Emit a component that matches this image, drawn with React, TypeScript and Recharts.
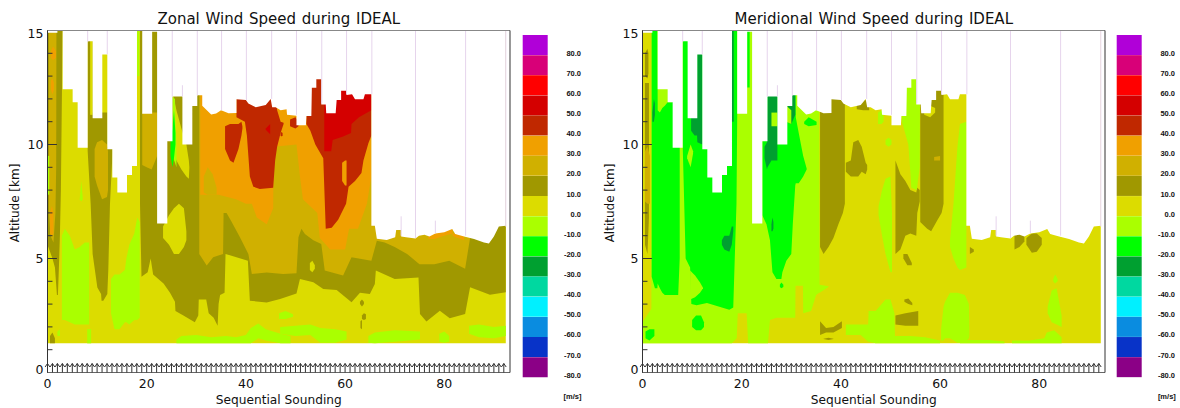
import { Area, Bar, BarChart, Cell, ComposedChart, Line, Scatter, XAxis, YAxis } from 'recharts';

type Row = [number, number, number];

const FONT = '"DejaVu Sans", sans-serif';
const YELLOW = '#dcdc00';
const OLIVE = '#a09800';
const GOLD = '#d0b000';
const ORANGE = '#f0a000';
const BRICK = '#c02800';
const DARKRED = '#d40000';
const LIME = '#aaff00';
const GREEN = '#00ff00';
const DARKGREEN = '#00a030';

const colorLevels = [80, 70, 60, 50, 40, 30, 20, 10, 0, -10, -20, -30, -40, -50, -60, -70, -80];
const colorFills = ['#b000d8', '#d80078', '#ff0000', '#d40000', '#c02800', '#f0a000', '#d0b000', '#a09800', '#dcdc00', '#aaff00', '#00ff00', '#00a030', '#00d8a0', '#00f0ff', '#0a8ce0', '#0833c8', '#8b0086'];

const xTicks = [0, 20, 40, 60, 80];
const altitudeTicks = [0, 1, 2, 3, 4, 5, 6, 7, 8, 9, 10, 11, 12, 13, 14, 15];
const minorAltitudes = [1, 2, 3, 4, 6, 7, 8, 9, 11, 12, 13, 14];
const majorAltitudes = [5, 10];
const soundings = [0, 1, 2, 3, 4, 5, 6, 7, 8, 9, 10, 11, 12, 13, 14, 15, 16, 17, 18, 19, 20, 21, 22, 23, 24, 25, 26, 27, 28, 29, 30, 31, 32, 33, 34, 35, 36, 37, 38, 39, 40, 41, 42, 43, 44, 45, 46, 47, 48, 49, 50, 51, 52, 53, 54, 55, 56, 57, 58, 59, 60, 61, 62, 63, 64, 65, 66, 67, 68, 69, 70, 71, 72, 73, 74, 75, 76, 77, 78, 79, 80, 81, 82, 83, 84, 85, 86, 87, 88, 89, 90, 91, 92];

// top of the data, white above it: [sounding, top altitude, 15]
const profileTop: Row[] = [
  [0, 14.9, 15.1], [2, 14.9, 15.1], [2, 15, 15.1], [3.06, 15, 15.1], [3.06, 12.42, 15.1], [5.07, 12.42, 15.1], [5.07, 11.85, 15.1], [6.08, 11.85, 15.1], [6.08, 9.86, 15.1], [8.1, 9.86, 15.1], [8.1, 14.53, 15.1], [9.1, 14.53, 15.1], [9.1, 11.15, 15.1], [11.05, 11.15, 15.1], [11.05, 13.95, 15.1], [12.06, 13.95, 15.1], [12.06, 9.79, 15.1], [13.07, 9.79, 15.1], [13.07, 8.55, 15.1], [14.08, 8.55, 15.1], [14.08, 7.89, 15.1], [16.03, 7.89, 15.1], [16.03, 8.66, 15.1], [17.04, 8.66, 15.1], [17.04, 9.06, 15.1], [18.04, 9.06, 15.1], [18.04, 15, 15.1], [19.1, 15, 15.1], [19.1, 11.35, 15.1], [21.1, 11.35, 15.1], [21.1, 14.95, 15.1], [22.1, 14.95, 15.1], [22.1, 6.54, 15.1], [24.16, 6.54, 15.1], [24.16, 10.14, 15.1], [25.2, 10.14, 15.1], [25.2, 12.1, 15.1], [27.2, 12.1, 15.1], [27.2, 10, 15.1], [29.2, 10, 15.1], [29.2, 11.69, 15.1], [30.2, 11.69, 15.1], [30.2, 12.16, 15.1], [31.2, 12.16, 15.1], [31.2, 11.7, 15.1], [33, 11.32, 15.1], [34, 11.36, 15.1], [35, 11.5, 15.1], [36.5, 11.37, 15.1], [38.1, 11.38, 15.1], [38.1, 11.98, 15.1], [40, 11.95, 15.1], [40.5, 11.8, 15.1], [42, 11.63, 15.1], [44, 11.73, 15.1], [45, 12, 15.1], [45.3, 11.63, 15.1], [46, 11.63, 15.1], [47, 11.5, 15.1], [48.2, 11.55, 15.1], [48.3, 11.3, 15.1], [50.2, 11.26, 15.1], [50.2, 10.84, 15.1], [52.1, 10.84, 15.1], [52.2, 11.25, 15.1], [53.2, 11.25, 15.1], [53.3, 12.49, 15.1], [54.2, 12.49, 15.1], [54.2, 12.86, 15.1], [55.2, 12.86, 15.1], [55.2, 11.75, 15.1], [56.1, 11.75, 15.1], [56.2, 11.37, 15.1], [58.1, 11.37, 15.1], [58.3, 11.95, 15.1], [59.2, 11.95, 15.1], [59.2, 12.36, 15.1], [60.2, 12.36, 15.1], [60.3, 12.17, 15.1], [61.4, 12.2, 15.1], [62, 11.99, 15.1], [63.7, 11.99, 15.1], [64, 12.2, 15.1], [65.3, 12.2, 15.1], [65.3, 6.44, 15.1], [66, 6.44, 15.1], [66.4, 5.87, 15.1], [68.4, 5.81, 15.1], [70.1, 5.93, 15.1], [70.3, 6.25, 15.1], [71.3, 6.25, 15.1], [71.3, 5.96, 15.1], [72.3, 5.93, 15.1], [74.2, 5.88, 15.1], [74.9, 6, 15.1], [76, 6.04, 15.1], [77, 5.97, 15.1], [78.2, 6.1, 15.1], [80, 6.15, 15.1], [81.6, 6.29, 15.1], [82.2, 6.07, 15.1], [84, 5.97, 15.1], [86, 5.85, 15.1], [88, 5.7, 15.1], [89, 5.66, 15.1], [90, 5.96, 15.1], [91, 6.4, 15.1], [92.4, 6.44, 15.1],
];
// launch marks above the data: [sounding, from, to]
const launchMarks: Row[] = [[8.1, 14.5, 15], [12.05, 13.95, 15], [25.15, 12.1, 15], [27.2, 12.1, 12.6], [30.2, 12.15, 15], [35.1, 11.5, 15], [40.1, 11.95, 15], [45.2, 12, 15], [50.2, 11.3, 15], [55.3, 11.8, 15], [60.3, 12.2, 15], [65.4, 12.2, 15], [71.3, 6, 6.85], [74.2, 5.9, 15], [78.2, 6.1, 6.66], [84.3, 6, 15], [92.4, 6.4, 15]];

const base: Row[] = [[0, 1.28, 15], [92.4, 1.28, 15]];

// Zonal: [sounding, low, high]
const zLimeA: Row[] = [[2.9, 2.3, 6], [3.5, 2.3, 6.3], [4.5, 2.2, 6], [5.5, 2.1, 5.4], [6.5, 2.1, 5.5], [7.5, 2.1, 5.7], [8.4, 2.1, 5.7]];
const zLimeB: Row[] = [[12.8, 2.6, 4.1], [13.5, 1.9, 4.3], [14.5, 1.9, 4.3], [15.6, 2.2, 4.5], [15.9, 2.2, 5], [16.5, 2.1, 5.6], [17.5, 2.3, 6.1], [18.1, 2.3, 6.8], [18.6, 2.4, 6.6]];
const zLimeTip: Row[] = [[6.5, 7.6, 7.6], [6.8, 7.5, 8.4], [7.1, 7.6, 7.7]];
const zLimeFoot: Row[] = [[8, 1.28, 1.9], [8.8, 1.28, 1.9]];
const zLimeC: Row[] = [[2, 1.6, 1.8], [2.5, 1.6, 1.9]];
const zLimeD: Row[] = [[26, 1.28, 1.45], [27, 1.28, 1.6], [30, 1.28, 1.65], [33, 1.28, 1.55], [36, 1.28, 1.6], [38, 1.28, 1.55], [40, 1.28, 1.65], [41, 1.28, 1.95], [42.5, 1.5, 2.15], [44, 1.4, 1.9], [47, 1.28, 1.7], [49, 1.28, 1.6]];
const zLimeE: Row[] = [[46.7, 2.35, 2.6], [48, 2.35, 2.7], [49.5, 2.45, 2.55]];
const zLimeF: Row[] = [[46.9, 1.7, 2], [50, 1.6, 2.05], [53, 1.65, 2.1], [55, 1.3, 1.95], [58, 1.3, 1.9], [60.3, 1.45, 1.8]];
const zLimeG: Row[] = [[64.7, 1.3, 1.6], [66, 1.28, 1.75], [70, 1.35, 1.85], [75.1, 1.45, 1.8]];
const zLimeH: Row[] = [[79, 1.35, 1.7], [80, 1.3, 1.8], [81, 1.35, 1.6]];
const zLimeI: Row[] = [[85, 1.7, 2.05], [87, 1.55, 2.1], [90, 1.5, 2], [92.4, 1.6, 2.05]];
const zOliveA: Row[] = [[0, 5.6, 15], [1, 5, 15], [1.5, 4.6, 15], [1.9, 3.4, 15], [2.1, 3.4, 15], [2.3, 4.6, 15], [2.5, 6, 15], [2.7, 8, 15], [2.85, 11, 15], [3.05, 15, 15]];
const zOliveB: Row[] = [[8.1, 9.7, 14.6], [8.7, 7.4, 14.6], [9.1, 5.2, 14.6], [9.1, 5.2, 11.4], [10.05, 3.73, 11.4], [10.8, 3.44, 11.4], [10.9, 3.15, 11.4], [11.25, 3.15, 11.4], [12.06, 3.44, 11.4], [12.06, 3.44, 9.9], [12.26, 4.5, 9.9], [12.6, 7.4, 9.9], [13.1, 9.6, 9.8]];
const zYellowStrip: Row[] = [[8.6, 11.3, 14.6], [9.1, 11.3, 14.6]];
const zOliveFoot: Row[] = [[0.5, 1.28, 1.6], [1, 1.28, 1.75], [1.5, 1.28, 1.5]];
const zOliveBand: Row[] = [[18.65, 7.4, 15], [18.95, 4.2, 15], [20.2, 4.4, 15], [20.8, 5, 15], [21.3, 4.3, 15], [23.4, 3.9, 15], [24.7, 3.5, 15], [25.7, 3.1, 15], [25.8, 2.7, 15], [27.4, 2.5, 15], [29.7, 2.2, 15], [30.4, 2.5, 15], [30.5, 3.2, 15], [32, 3.2, 15], [32.5, 2.6, 15], [33.5, 2.4, 15], [34.3, 2.05, 15], [34.5, 3, 15], [34.8, 3.4, 15], [35.7, 3.5, 15], [35.9, 5.2, 15], [40.4, 4.9, 15], [40.8, 3.15, 15], [44.2, 3.07, 15], [46.9, 3.22, 15], [50.2, 3.47, 15], [50.9, 4.1, 15], [53.6, 3.96, 15], [55.6, 3.66, 15], [58.3, 3.62, 15], [61.3, 3.08, 15], [63, 3.5, 15], [65, 3.44, 15], [66, 3.88, 15], [66.2, 4.47, 15], [70, 4.1, 15], [74.8, 4.17, 15], [75.1, 2.57, 15], [76.4, 2.24, 15], [79.1, 2.71, 15], [81.1, 2.38, 15], [84.2, 2.57, 15], [85.2, 3.74, 15], [89.2, 3.41, 15], [92.4, 3.52, 15]];
const zOliveDotA: Row[] = [[63, 3, 3.1], [63.4, 2.9, 3.2], [63.8, 3, 3.1]];
const zOliveDotB: Row[] = [[63.4, 2.35, 2.5], [63.8, 2.3, 2.6], [64.2, 2.35, 2.55]];
const zOliveDotC: Row[] = [[63.1, 1.95, 2.25], [63.4, 1.9, 2.3]];
const zGoldA: Row[] = [[0.3, 7, 15], [0.6, 6, 14.9], [1.2, 5.7, 15], [1.6, 7, 15], [1.75, 9, 15], [1.8, 15, 15]];
const zGoldB: Row[] = [[9.5, 8.6, 9.8], [10, 8.2, 10.1], [11, 7.6, 10.2], [12, 7.7, 10], [12.2, 8, 9.7]];
const zGoldC: Row[] = [[19.1, 9.1, 11.4], [20, 9, 11.4], [21, 8.9, 11.4], [22.1, 9.5, 11.4]];
const zGoldMain: Row[] = [[30.6, 5.2, 15], [32.1, 4.69, 15], [33.4, 5.05, 15], [35.4, 5.2, 15], [35.5, 7, 15], [36.1, 7, 15], [37, 6.66, 15], [38.8, 5.93, 15], [40.5, 5.2, 15], [41.2, 4.32, 15], [44.2, 4.39, 15], [47.5, 4.32, 15], [50.2, 4.35, 15], [50.6, 5.93, 15], [51.2, 6.3, 15], [51.9, 6.07, 15], [53.6, 5.8, 15], [55.2, 5.64, 15], [55.9, 4.47, 15], [59.6, 4.25, 15], [61.3, 5.05, 15], [65.3, 4.9, 15], [66.4, 5.78, 15], [68, 5.7, 15], [70, 5.5, 15], [72.5, 5.2, 15], [75, 4.75, 15], [78, 4.75, 15], [81, 4.9, 15], [84.2, 4.55, 15], [85.2, 5.9, 15]];
const zGoldSpot: Row[] = [[31.5, 7.9, 8.6], [32.3, 7.8, 9], [33.3, 7.8, 8.7], [34.1, 7.8, 8.1]];
const zOrangeA: Row[] = [[0.7, 13.8, 14.1], [1.1, 13.7, 14.3], [1.7, 13.8, 14.1]];
const zOrangeB: Row[] = [[0.7, 12.4, 12.8], [1, 12.2, 12.9], [1.3, 12.4, 12.7]];
const zOrangeC: Row[] = [[0.5, 6.1, 7], [0.9, 6, 7.3], [1.2, 6.1, 7]];
const zOrangeMain: Row[] = [[30.8, 7.8, 15], [34.5, 7.8, 15], [38, 7.6, 15], [40, 7.4, 15], [41.2, 7.4, 15], [42.2, 6.8, 15], [44.2, 6.5, 15], [45.5, 7.2, 15], [45.6, 9.9, 15], [50.2, 10, 15], [50.9, 8.6, 15], [51.5, 7.6, 15], [54.4, 7, 15], [54.9, 5.9, 15], [57, 5.4, 15], [60, 5.4, 15], [60.8, 6.3, 15], [62.6, 6.3, 15], [64.4, 7.4, 15], [65.3, 8.6, 15]];
const zOrangeTop: Row[] = [[76.8, 5.85, 6], [78, 5.85, 6.2], [80, 6, 6.2], [81.6, 6.1, 6.4], [81.7, 6, 6.1], [82, 5.95, 6.1], [84, 5.8, 6.05]];
const zBrickA: Row[] = [[35.8, 9.8, 10.8], [36.8, 9.3, 10.9], [37.5, 9.2, 10.9], [38.5, 9.8, 10.9], [39.1, 10.4, 11], [39.3, 10.7, 10.8]];
const zBrickB: Row[] = [[38.1, 11.2, 12], [39.8, 11, 12], [40.2, 10.4, 12], [40.8, 8.6, 12], [41.5, 8.15, 12], [42.8, 8.05, 12], [45.5, 8.1, 12.1], [45.9, 9.3, 12.1], [46.3, 9.9, 11.5], [47, 10.5, 11], [47.6, 10.9, 10.95]];
const zBrickDot: Row[] = [[47, 10.4, 10.5], [47.2, 10.35, 10.55], [47.4, 10.4, 10.5]];
const zBrickC: Row[] = [[48.9, 10.8, 11.1], [50, 10.7, 11.2], [50.6, 10.8, 11]];
const zBrickD: Row[] = [[52.2, 10.9, 15], [53, 10.6, 15], [54, 10, 15], [55.6, 9.4, 15], [56.1, 6.3, 15], [57.3, 6.35, 15], [58.6, 6.7, 15], [60.2, 7.4, 15], [60.7, 8.15, 15], [62, 8.4, 15], [63.3, 8.75, 15], [63.7, 9.3, 15], [64.7, 10.05, 15], [65.3, 10.4, 15]];
const zOrangeNotch: Row[] = [[59.4, 8.4, 9.2], [60, 8.2, 9.3], [60.3, 8.2, 9.3]];
const zRed: Row[] = [[55.8, 9.7, 15], [57.2, 9.7, 15], [57.5, 10.2, 15], [59.6, 10.35, 15], [61.2, 10.5, 15], [61.3, 10.9, 15], [62.8, 11.2, 15], [65.3, 11.5, 15]];
const zRedSpot: Row[] = [[44, 10.65, 10.7], [44.9, 10.45, 10.9]];
const zYellowA: Row[] = [[25.3, 9.7, 12.2], [26, 9.3, 11.5], [27, 8.9, 10.7], [28, 8.6, 10], [28.5, 8.5, 9.3], [28.6, 9, 9]];
const zYellowB: Row[] = [[23.3, 5.9, 6.4], [24.5, 5.6, 6.9], [25.5, 5.2, 7.2], [26.5, 5.2, 7.4], [27.5, 5.5, 7.2], [28, 5.8, 6.2]];
const zYellowC: Row[] = [[52.9, 4.5, 4.8], [53.4, 4.4, 4.9], [53.9, 4.55, 4.7]];
const zLimeStrip: Row[] = [[25.2, 9.5, 12.1], [25.7, 9.2, 12], [26, 9, 10]];
const zLimeEdge: Row[] = [[0, 7.8, 9.5], [0.35, 7.8, 9.5]];
const zLimeTop: Row[] = [[18.1, 13, 15], [18.5, 13, 15]];
const zGreen: Row[] = [[24.8, 9.5, 10.14], [25.2, 9, 10.7], [25.5, 9.4, 11.5], [25.8, 10, 10.5]];

// Meridional: [sounding, low, high]
const mLime: Row[] = [[0, 1.28, 2.2], [1.8, 1.28, 2.8], [1.85, 1.28, 15], [18, 1.28, 15], [19, 1.5, 15], [19.2, 2.6, 15], [21, 2.6, 15], [21.3, 1.28, 15], [25.3, 1.28, 15], [25.7, 2.3, 15], [27, 2.4, 15], [30.8, 2.4, 15], [30.85, 3.8, 15], [32.35, 3.8, 15], [32.4, 2.6, 15], [34, 2.7, 15], [35, 3.4, 15], [35.6, 3.5, 15], [35.7, 3.5, 3.85], [37.5, 3.75, 3.78]];
const mLimeA: Row[] = [[41, 1.65, 2.1], [44, 1.65, 2.1], [45.5, 1.35, 2.1], [45.6, 1.35, 2.7], [47, 1.28, 2.7], [49, 1.28, 3.2], [50, 1.28, 3.2], [50.8, 1.28, 2.6], [50.9, 1.28, 1.6], [54, 1.28, 1.6], [57, 1.28, 1.55], [60, 1.28, 1.4]];
const mLimeB: Row[] = [[47.6, 6.9, 7.3], [48.3, 6, 8], [49, 5.2, 8.5], [50, 4.4, 8.6], [50.3, 4.4, 7]];
const mLimeC: Row[] = [[47.5, 10.9, 11.4], [48.2, 10.9, 11.5], [48.6, 11, 11.3]];
const mLimeD: Row[] = [[49, 10, 10.2], [49.6, 9.9, 10.3], [50.2, 10, 10.2]];
const mLimeE: Row[] = [[52.3, 11, 15], [53.6, 10, 15], [54, 8.8, 15], [54.2, 8.1, 15], [55.3, 8, 15], [55.9, 9, 15], [56, 15, 15]];
const mLimeF: Row[] = [[62, 5.5, 5.8], [62.7, 5, 7.4], [63.5, 4.6, 9.9], [64, 4.5, 10.9], [65.3, 4.6, 11]];
const mLimeG: Row[] = [[60.2, 1.4, 1.9], [60.7, 1.4, 2.9], [61, 1.5, 3.1], [62, 1.5, 3.5], [63.5, 1.3, 3.5], [65, 1.3, 3.4], [65.8, 1.5, 3], [65.9, 1.6, 2]];
const mLimeH: Row[] = [[64, 1.28, 1.42], [70, 1.28, 1.42], [73, 1.28, 1.36]];
const mLimeI: Row[] = [[74.5, 1.28, 1.4], [78, 1.28, 1.4], [81, 1.28, 1.5], [81.5, 1.28, 1.75], [83, 1.28, 1.85], [84.5, 1.28, 1.55]];
const mLimeJ: Row[] = [[81.7, 2.6, 2.9], [82.5, 2.2, 3.6], [83.5, 2.1, 3.7], [84.5, 2, 2.5]];
const mLimeK: Row[] = [[82.8, 4, 4.1], [83.2, 3.9, 4.3], [83.7, 4, 4.1]];
const mOliveEdge: Row[] = [[0.5, 5.6, 12.7], [1, 5.2, 12.7], [1.3, 6.8, 12.7]];
const mOliveEdgeB: Row[] = [[0.5, 13, 14], [1, 12.9, 14.2], [1.2, 13.1, 14]];
const mGoldEdge: Row[] = [[0.5, 7.5, 9.7], [1, 7.4, 9.9], [1.5, 7.4, 9.5]];
const mOliveA: Row[] = [[35.8, 5.5, 15], [36.5, 5.2, 15], [37.5, 5.5, 15], [38.5, 5.9, 15], [39.5, 6.5, 15], [40.4, 7, 15], [40.8, 7.4, 15]];
const mOliveB: Row[] = [[41, 8.8, 9.2], [42, 8.6, 9.3], [42.5, 8.6, 10.1], [43.5, 8.6, 10.2], [44.2, 8.8, 9.9], [45, 8.7, 9.2], [45.3, 8.9, 9.1]];
const mOliveC: Row[] = [[43.2, 11.55, 11.7], [44.5, 11.5, 12.1], [45.7, 11.5, 11.7]];
const mOliveD: Row[] = [[51, 5.2, 9.3], [52, 5.4, 8.7], [53, 6, 8.4], [54, 6.1, 8], [55.2, 6, 7.9], [55.4, 7, 8.1], [55.9, 7.5, 8]];
const mOliveE: Row[] = [[56, 6.6, 15], [57.4, 6.3, 15], [58.2, 6.2, 15], [59.5, 6.7, 15], [60.3, 7, 15], [60.7, 7.4, 15]];
const mOliveF: Row[] = [[52.6, 5, 5.2], [53.4, 4.7, 5.2], [54.3, 4.7, 4.8]];
const mOliveG: Row[] = [[52.8, 3.1, 3.2], [53.6, 3, 3.25], [54.4, 2.95, 3.05]];
const mOliveH: Row[] = [[51, 2.1, 2.5], [53, 2.05, 2.6], [55.6, 2.05, 2.7]];
const mOliveI: Row[] = [[66, 5.2, 5.5], [66.8, 5.3, 5.4]];
const mOliveJ: Row[] = [[75, 5.4, 6.05], [76, 5.5, 6.1], [77, 5.75, 6.1]];
const mOliveK: Row[] = [[77.4, 5.6, 5.9], [78.5, 5.25, 6.1], [79.5, 5.3, 6.1], [80.5, 5.6, 5.9]];
const mOliveL: Row[] = [[35.8, 1.65, 2.25], [37, 1.75, 1.95], [38.5, 1.75, 2], [40.2, 1.95, 2.25]];
const mOliveM: Row[] = [[36.5, 1.47, 1.48], [37.5, 1.42, 1.52], [38.5, 1.47, 1.48]];
const mGoldSpot: Row[] = [[58.8, 9.3, 9.45], [60, 9.3, 9.5]];
const mYellowPatch: Row[] = [[56.8, 11.3, 11.6], [58, 11.2, 11.7], [59, 11.4, 11.6]];
const mGreenA: Row[] = [[1.85, 4.2, 15], [2.5, 3.7, 15], [3, 3.7, 15], [3.06, 3.9, 11.5], [3.5, 3.7, 11.4], [4, 3.5, 11.6], [4.5, 3.4, 11.7], [5.07, 3.4, 11.85], [6, 3.4, 11.85], [6.08, 3.4, 15], [7.2, 3.4, 15], [7.5, 5, 15]];
const mGreenB: Row[] = [[8.1, 10, 15], [8.7, 5, 15], [9.6, 4.6, 15], [9.85, 3, 15], [10.9, 2.95, 15], [13, 3.05, 15], [16, 2.85, 15], [17.5, 2.75, 15], [18.3, 2.85, 15], [18.6, 5, 15], [18.95, 7.4, 15], [19.1, 11.3, 15]];
const mGreenC: Row[] = [[24.16, 6.9, 15], [25, 6.5, 15], [25.7, 5.8, 15], [26.2, 4.4, 15], [27, 4.1, 15], [28, 4.1, 15], [28.2, 4.4, 15], [29, 4.9, 15], [30, 5.2, 15], [30.3, 6.5, 15], [30.8, 8.2, 15], [30.9, 8.3, 11.2], [31.5, 8.3, 10.5], [32.4, 8.6, 9.5], [33.1, 8.9, 8.95]];
const mGreenD: Row[] = [[32.6, 10.9, 11], [33.5, 10.8, 11.2], [35.1, 10.85, 11]];
const mGreenE: Row[] = [[10, 2, 2.3], [10.8, 1.85, 2.5], [11.8, 1.85, 2.5], [12.4, 2, 2.2]];
const mGreenF: Row[] = [[0.6, 1.5, 1.8], [1.4, 1.4, 1.9], [2.4, 1.6, 1.9]];
const mGreenG: Row[] = [[21.1, 12.5, 15], [21.6, 12.5, 15]];
const mGreenH: Row[] = [[27.7, 3.75, 3.85], [28, 3.7, 3.95], [28.4, 3.75, 3.85]];
const mLimeInlet: Row[] = [[9.6, 3.2, 4.47], [10.6, 3.3, 4.25], [11.6, 3.5, 3.95], [12.2, 3.7, 3.72]];
const mLimeDart: Row[] = [[9, 9.4, 9.5], [9.7, 9, 10], [10.2, 9.6, 9.7]];
const mLimeN1: Row[] = [[26, 10.8, 11.4], [27.2, 10.8, 11.4]];
const mLimeN2: Row[] = [[29, 11, 11.7], [30, 10.9, 11.5]];
const mDarkA: Row[] = [[9.8, 10.6, 11.2], [10.5, 10.4, 11.2], [11, 10.4, 11.2], [11.05, 10.1, 15], [12.06, 10, 15]];
const mDarkB: Row[] = [[18.04, 11, 15], [18.4, 11, 15]];
const mDarkC: Row[] = [[16, 5.6, 5.8], [16.5, 5.4, 6], [17.5, 5.3, 6], [18, 5.6, 6.4], [18.3, 6.2, 6.4]];
const mDarkD: Row[] = [[24.6, 9.4, 9.9], [25.1, 8.9, 10.1], [25.2, 9, 12.3], [26, 9.3, 12.3], [27.2, 9.3, 12.3]];
const mDarkE: Row[] = [[29.2, 11, 11.8], [30, 10.9, 12.2], [30.8, 11.3, 12.2]];
const mDarkF: Row[] = [[26, 6.2, 6.5], [26.2, 6.2, 6.8], [26.4, 6.3, 6.6]];
const mDarkG: Row[] = [[2, 11, 11.4], [2.3, 11, 12], [2.5, 11.3, 11.8]];

const zonalLayers: [Row[], string][] = [
  [base, YELLOW], [zLimeA, LIME], [zLimeB, LIME], [zLimeTip, LIME], [zLimeFoot, LIME], [zLimeC, LIME], [zLimeD, LIME], [zLimeE, LIME], [zLimeF, LIME], [zLimeG, LIME], [zLimeH, LIME], [zLimeI, LIME],
  [zOliveA, OLIVE], [zOliveB, OLIVE], [zYellowStrip, YELLOW], [zOliveFoot, OLIVE], [zOliveBand, OLIVE], [zOliveDotA, OLIVE], [zOliveDotB, OLIVE], [zOliveDotC, OLIVE],
  [zYellowA, YELLOW], [zYellowB, YELLOW], [zYellowC, YELLOW],
  [zGoldA, GOLD], [zGoldB, GOLD], [zGoldC, GOLD], [zGoldMain, GOLD],
  [zOrangeA, ORANGE], [zOrangeB, ORANGE], [zOrangeC, ORANGE], [zOrangeMain, ORANGE], [zOrangeTop, ORANGE], [zGoldSpot, GOLD],
  [zBrickA, BRICK], [zBrickB, BRICK], [zBrickDot, BRICK], [zBrickC, BRICK], [zBrickD, BRICK], [zOrangeNotch, ORANGE], [zRed, DARKRED], [zRedSpot, DARKRED],
  [zLimeStrip, LIME], [zLimeEdge, LIME], [zLimeTop, LIME], [zGreen, GREEN],
];

const meridionalLayers: [Row[], string][] = [
  [base, YELLOW], [mLime, LIME], [mLimeA, LIME], [mLimeB, LIME], [mLimeC, LIME], [mLimeD, LIME], [mLimeF, LIME], [mLimeG, LIME], [mLimeH, LIME], [mLimeI, LIME], [mLimeJ, LIME], [mLimeK, LIME],
  [mOliveEdge, OLIVE], [mOliveEdgeB, OLIVE], [mGoldEdge, GOLD], [mOliveA, OLIVE], [mOliveB, OLIVE], [mOliveC, OLIVE], [mOliveD, OLIVE], [mOliveE, OLIVE], [mLimeE, LIME], [mOliveF, OLIVE], [mOliveG, OLIVE], [mOliveH, OLIVE], [mOliveI, OLIVE], [mOliveJ, OLIVE], [mOliveK, OLIVE], [mOliveL, OLIVE], [mOliveM, OLIVE], [mGoldSpot, GOLD], [mYellowPatch, YELLOW],
  [mGreenA, GREEN], [mGreenB, GREEN], [mGreenC, GREEN], [mGreenD, GREEN], [mGreenE, GREEN], [mGreenF, GREEN], [mGreenG, GREEN], [mGreenH, GREEN],
  [mLimeInlet, LIME], [mLimeDart, LIME],
  [mDarkA, DARKGREEN], [mDarkB, DARKGREEN], [mDarkC, DARKGREEN], [mDarkD, DARKGREEN], [mDarkE, DARKGREEN], [mDarkF, DARKGREEN], [mDarkG, DARKGREEN], [mLimeN1, LIME], [mLimeN2, LIME],
];

function toBand(rows: Row[]) {
  return rows.map(([x, lo, hi]) => ({ x, band: [lo, hi] }));
}

const arrowPoints = soundings.map((x) => ({ x, y: 0 }));

function SoundingArrow({ cx, cy }: any) {
  return (
    <path
      d={`M${cx} ${cy}V${cy - 9}M${cx - 2.4} ${cy - 5.5}L${cx} ${cy - 9}L${cx + 2.4} ${cy - 5.5}`}
      stroke="#333"
      strokeWidth={1}
      fill="none"
    />
  );
}

function LeftTick({ x, y, payload }: any) {
  const v = payload.value;
  if (v % 5 !== 0) return <g />;
  const dy = v === 15 ? 3 : v === 0 ? -3 : 0;
  return (
    <text x={x - 4} y={y + dy + 4.5} textAnchor="end" fontFamily={FONT} fontSize={12.5} fill="#111">
      {v}
    </text>
  );
}

function RightTick({ x, y, payload }: any) {
  const v = payload.value;
  if (v === 0 || v === 15) return <g />;
  return <line x1={x} x2={x - (v === 10 ? 9.5 : 4.5)} y1={y} y2={y} stroke="#333" />;
}

// straight frame piece drawn over the contour fills
function frameLine(key: string, from: [number, number], to: [number, number], color: string) {
  return (
    <Line
      key={key}
      data={[
        { x: from[0], y: from[1] },
        { x: to[0], y: to[1] },
      ]}
      dataKey="y"
      stroke={color}
      strokeWidth={1}
      dot={false}
      activeDot={false}
      isAnimationActive={false}
    />
  );
}

function WindPanel({ left, title, layers }: { left: number; title: string; layers: [Row[], string][] }) {
  return (
    <div style={{ position: 'absolute', left, top: 0, width: 515, height: 408 }}>
      <div
        style={{
          position: 'absolute',
          left: 47.5,
          width: 462.5,
          top: 10,
          textAlign: 'center',
          fontFamily: FONT,
          fontSize: 15,
          wordSpacing: 1,
          lineHeight: '18px',
          color: '#111',
        }}
      >
        {title}
      </div>
      <div
        style={{
          position: 'absolute',
          left: -35,
          top: 195,
          width: 100,
          textAlign: 'center',
          transform: 'rotate(-90deg)',
          fontFamily: FONT,
          fontSize: 12,
          lineHeight: '16px',
          color: '#111',
          whiteSpace: 'nowrap',
        }}
      >
        Altitude [km]
      </div>
      <div
        style={{
          position: 'absolute',
          left: 47.5,
          width: 462.5,
          top: 392,
          textAlign: 'center',
          fontFamily: FONT,
          fontSize: 12.2,
          lineHeight: '16px',
          color: '#111',
        }}
      >
        Sequential Sounding
      </div>
      <ComposedChart width={515} height={408} margin={{ top: 30.5, right: 0, bottom: 0, left: 0 }} style={{ position: 'absolute', left: 0, top: 0 }}>
        {layers.map(([rows, color], i) => (
          <Area
            key={i}
            data={toBand(rows)}
            dataKey="band"
            type="linear"
            fill={color}
            fillOpacity={1}
            stroke="none"
            dot={false}
            activeDot={false}
            isAnimationActive={false}
          />
        ))}
        <Area
          data={toBand(profileTop)}
          dataKey="band"
          type="linear"
          fill="#ffffff"
          fillOpacity={1}
          stroke="none"
          dot={false}
          activeDot={false}
          isAnimationActive={false}
        />
        {launchMarks.map(([x, from, to], i) => frameLine(`mark${i}`, [x, from], [x, to], '#e6d4ec'))}
        {frameLine('top', [0, 15], [93.25, 15], '#888888')}
        {frameLine('left', [0, 0], [0, 15], '#333333')}
        {minorAltitudes.map((alt) => frameLine(`minor${alt}`, [0, alt], [1, alt], '#333333'))}
        {majorAltitudes.map((alt) => frameLine(`major${alt}`, [0, alt], [1.9, alt], '#333333'))}
        <Scatter data={arrowPoints} dataKey="y" shape={SoundingArrow} isAnimationActive={false} />
        <XAxis
          dataKey="x"
          type="number"
          domain={[0, 93.25]}
          ticks={xTicks}
          interval={0}
          height={35.5}
          tickSize={0}
          tickMargin={7}
          stroke="#666"
          tick={{ fontFamily: FONT, fontSize: 12.5, fill: '#111' }}
        />
        <YAxis
          dataKey="y"
          type="number"
          domain={[0, 15]}
          ticks={altitudeTicks}
          interval={0}
          width={47.5}
          tickSize={0}
          tickMargin={0}
          tickLine={false}
          stroke="#333"
          tick={LeftTick}
        />
        <YAxis
          yAxisId="right"
          orientation="right"
          type="number"
          domain={[0, 15]}
          ticks={altitudeTicks}
          interval={0}
          width={5}
          tickSize={0}
          tickMargin={0}
          tickLine={false}
          stroke="#333"
          tick={RightTick}
        />
      </ComposedChart>
    </div>
  );
}

const colorRows = colorLevels.map((level, i) => ({ level, span: 1, fill: colorFills[i] }));

function ColorTick({ y, payload }: any) {
  return (
    <text x={66} y={y + 10.5} textAnchor="end" fontFamily='"Liberation Sans", sans-serif' fontWeight="bold" fontSize={7.5} fill="#111">
      {Number(payload.value).toFixed(1)}
    </text>
  );
}

function ColorBar({ left }: { left: number }) {
  return (
    <div style={{ position: 'absolute', left, top: 0, width: 75, height: 408 }}>
      <BarChart
        width={75}
        height={408}
        layout="vertical"
        data={colorRows}
        barCategoryGap={0}
        margin={{ top: 35, right: 0, bottom: 30.7, left: 7.7 }}
      >
        <XAxis type="number" domain={[0, 1]} hide />
        <YAxis type="category" dataKey="level" orientation="right" width={42.3} interval={0} tickLine={false} axisLine={false} tick={ColorTick} />
        <Bar dataKey="span" isAnimationActive={false}>
          {colorRows.map((row) => (
            <Cell key={row.level} fill={row.fill} />
          ))}
        </Bar>
      </BarChart>
      <div
        style={{
          position: 'absolute',
          left: 46.5,
          width: 20,
          top: 392,
          textAlign: 'right',
          fontFamily: '"Liberation Sans", sans-serif',
          fontWeight: 'bold',
          fontSize: 7.5,
          lineHeight: '10px',
          color: '#111',
          whiteSpace: 'nowrap',
        }}
      >
        [m/s]
      </div>
    </div>
  );
}

export default function App() {
  return (
    <div style={{ position: 'absolute', left: 0, top: 0, width: 1180, height: 408, background: '#fff', overflow: 'hidden' }}>
      <WindPanel left={0} title="Zonal Wind Speed during IDEAL" layers={zonalLayers} />
      <ColorBar left={515} />
      <WindPanel left={595} title="Meridional Wind Speed during IDEAL" layers={meridionalLayers} />
      <ColorBar left={1109.3} />
    </div>
  );
}
